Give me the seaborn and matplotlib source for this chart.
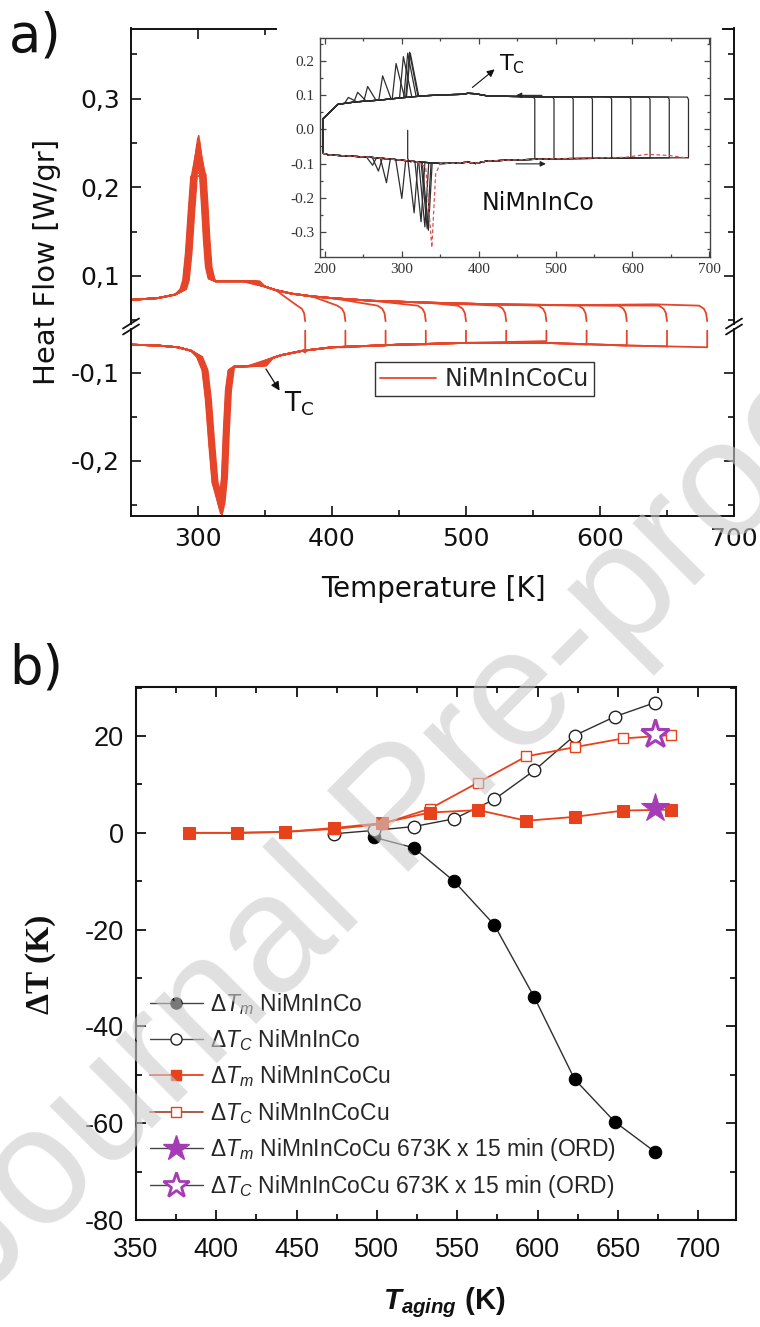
import numpy as np
import matplotlib
matplotlib.use("Agg")
import matplotlib.pyplot as plt
import seaborn as sns
from matplotlib.ticker import MultipleLocator, FuncFormatter
from matplotlib.lines import Line2D
from matplotlib.patches import Rectangle

sns.set_theme(style="ticks")
plt.rcParams["font.family"] = ["DejaVu Sans"]
plt.rcParams["mathtext.fontset"] = "custom"
plt.rcParams["mathtext.rm"] = "Liberation Sans"
plt.rcParams["mathtext.it"] = "Liberation Sans:italic"
plt.rcParams["mathtext.bf"] = "Liberation Sans:bold"
try:
    plt.rcParams["mathtext.bfit"] = "Liberation Sans:bold:italic"
except KeyError:
    pass

# ---------------- data: panel a, NiMnInCoCu DSC cycles ----------------
cu_tmax = [380, 410, 440, 470, 500, 530, 560, 590, 620, 650, 680]
cu_exo_peak = [0.258, 0.255, 0.252, 0.248, 0.244, 0.240, 0.236, 0.230, 0.224, 0.218, 0.214]
cu_exo_shift = [0.0, -0.6, 0.6, -1.2, 1.2, -1.8, 1.8, -0.9, 0.9, -2.2, 2.2]
cu_endo_peak = [-0.262, -0.260, -0.258, -0.256, -0.254, -0.252, -0.250, -0.248, -0.246, -0.245, -0.244]
cu_endo_shift = [0.4, -0.6, 1.0, -1.2, 1.6, -1.8, 2.2, -0.2, 0.7, -1.5, 1.3]
cu_tc_cool = [333, 334.5, 336, 337.5, 339, 340, 341, 342, 343, 344.5, 346]
cu_tc_heat = [338, 339.5, 341, 342.5, 344, 345, 346, 347, 348, 349.5, 351]
cu_heat_end = [-0.077, -0.071, -0.069, -0.068, -0.066, -0.066, -0.064, -0.068, -0.069, -0.070, -0.071]

# cooling (exothermic) branch template; None = per-cycle value
cool_T = [250, 270, 283, 289, 291, 293, 295, 297, 300.5, 303.5, 305, 306.5, 308, 310, 313, 322, None,
          350, 358, 370, 385, 400, 430, 470, 520, 580, 640, 690]
cool_HF = [0.073, 0.075, 0.079, 0.085, 0.095, 0.125, 0.170, 0.212, None, 0.215, 0.180, 0.140, 0.110,
           0.097, 0.094, 0.094, 0.094, 0.088, 0.084, 0.080, 0.077, 0.075, 0.072, 0.070, 0.068, 0.067,
           0.068, 0.068]
cool_peak_win = (288, 311)
# heating (endothermic) branch template
heat_T = [250, 270, 285, 295, 301, 305, 307.5, 310, 312.5, 317.5, 319.5, 321, 322.5, 324.5, 327, 331, None,
          356, 362, 378, 400, 450, 500, 560, 620, 690]
heat_HF = [-0.068, -0.069, -0.071, -0.075, -0.082, -0.097, -0.130, -0.180, -0.225, None, -0.220, -0.165,
           -0.120, -0.097, -0.093, -0.093, -0.092, -0.083, -0.080, -0.075, -0.071, -0.068, -0.066,
           -0.066, -0.069, -0.071]
heat_peak_win = (300, 326)
# rounded end of each cooling branch (offset from Tmax) and heat-flow values
hook_dT = [-6, -2.5, -0.8, 0]
hook_HF = [0.0665, 0.063, 0.058, 0.049]

# ---------------- data: inset, NiMnInCo ----------------
co_tmax = [473, 498, 523, 548, 573, 598, 623, 648, 673]
co_exo_T = [311, 310, 307.6, 302, 292.5, 275, 255.5, 242.5, 230.4]
co_exo_HF = [0.222, 0.225, 0.222, 0.212, 0.192, 0.156, 0.125, 0.108, 0.093]
co_endo_T = [334.5, 333, 330, 325, 316, 300, 280, 269.5, 262]
co_endo_HF = [-0.295, -0.290, -0.285, -0.270, -0.244, -0.202, -0.156, -0.122, -0.105]
in_cool_T = [197, 217, 240, 270, 300, 330, 360, 378, 386, 395, 410, 440, 480, 560, 680]
in_cool_HF = [0.030, 0.073, 0.080, 0.085, 0.092, 0.098, 0.101, 0.102, 0.105, 0.104, 0.098, 0.096,
              0.095, 0.095, 0.095]
in_heat_T = [197, 205, 230, 260, 290, 320, 350, 372, 386, 396, 410, 440, 500, 600, 680]
in_heat_HF = [-0.070, -0.075, -0.078, -0.082, -0.088, -0.095, -0.100, -0.099, -0.096, -0.100, -0.093,
              -0.090, -0.086, -0.084, -0.083]
exo_dT = [-5, 0, 11]
endo_dT = [-8, 0, 5]
red_T = [197, 205, 230, 260, 290, 320, 331, 339, 344, 350, 372, 386, 396, 410, 440, 500, 590, 620, 650, 673]
red_HF = [-0.070, -0.075, -0.078, -0.082, -0.088, -0.095, -0.110, -0.345, -0.130, -0.100, -0.099, -0.096,
          -0.100, -0.093, -0.090, -0.086, -0.082, -0.073, -0.077, -0.085]
spike_T = [307.6, 307.6, 309, 312]
spike_HF = [-0.003, -0.085, -0.092, -0.096]

# ---------------- data: panel b ----------------
co_tm_T = [498, 523, 548, 573, 598, 623, 648, 673]
co_dTm = [-0.9, -3.1, -10.0, -19.0, -34.0, -50.9, -59.7, -65.9]
co_tc_T = [473, 498, 523, 548, 573, 598, 623, 648, 673]
co_dTc = [-0.2, 0.5, 1.3, 2.9, 6.9, 12.9, 20.1, 24.0, 26.9]
cu_T = [383, 413, 443, 473, 503, 533, 563, 593, 623, 653, 683]
cu_dTm = [0.0, 0.0, 0.2, 1.0, 2.0, 4.2, 4.7, 2.5, 3.3, 4.6, 4.8]
cu_dTc = [0.0, 0.0, 0.2, 0.8, 1.8, 5.0, 10.4, 15.8, 17.7, 19.5, 20.2]
ord_T = [673]
ord_dTm = [5.1]
ord_dTc = [20.5]

RED = "#e6452a"
RED_B = "#e8421c"
PURP = "#a53cb6"
INK = "#2e2e2e"

W, H = 760, 1327
fig = plt.figure(figsize=(W / 100, H / 100), dpi=100)


def fbox(l, t, r, b):
    return [l / W, 1 - b / H, (r - l) / W, (b - t) / H]


def line(ax, xs, ys, **kw):
    sns.lineplot(x=list(xs), y=list(ys), ax=ax, sort=False, estimator=None, **kw)


comma = FuncFormatter(lambda v, p: f"{v:.1f}".replace(".", ",").replace("\u2212", "-"))

# ================= panel a =================
ax_up = fig.add_axes(fbox(131, 28.5, 734, 324))
ax_lo = fig.add_axes(fbox(131, 329, 734, 516), sharex=ax_up)

pk_c = cool_HF.index(None)
sh_c = cool_T.index(None)
pk_h = heat_HF.index(None)
sh_h = heat_T.index(None)

for i, tmax in enumerate(cu_tmax):
    cT = list(cool_T); cH = list(cool_HF)
    cH[pk_c] = cu_exo_peak[i]
    cT[sh_c] = cu_tc_cool[i]
    cT = [t + cu_exo_shift[i] if (t is not None and cool_peak_win[0] <= t <= cool_peak_win[1]) else t
          for t in cT]
    xs = [t for t in cT if t <= tmax - 12] + [tmax + d for d in hook_dT]
    ys = [h for t, h in zip(cT, cH) if t <= tmax - 12] + hook_HF
    line(ax_up, xs, ys, color=RED, lw=1.3)

    hT = list(heat_T); hH = list(heat_HF)
    hH[pk_h] = cu_endo_peak[i]
    hT[sh_h] = cu_tc_heat[i]
    hT = [t + cu_endo_shift[i] if heat_peak_win[0] <= t <= heat_peak_win[1] else t for t in hT]
    xs = [t for t in hT if t < tmax] + [tmax, tmax]
    ys = [h for t, h in zip(hT, hH) if t < tmax] + [cu_heat_end[i], -0.052]
    line(ax_lo, xs, ys, color=RED, lw=1.3)

ax_up.set_xlim(250, 700)
ax_up.set_ylim(0.0458, 0.379)
ax_lo.set_ylim(-0.263, -0.0502)

for ax in (ax_up, ax_lo):
    for s in ax.spines.values():
        s.set_linewidth(1.4)
        s.set_color("#111")
    ax.yaxis.set_major_locator(MultipleLocator(0.1))
    ax.yaxis.set_minor_locator(MultipleLocator(0.05))
    ax.yaxis.set_major_formatter(comma)
    ax.tick_params(axis="both", which="both", direction="in", left=True, right=True,
                   width=1.2, colors="#111", labelsize=18, labelcolor="#111", pad=8)
    ax.tick_params(which="major", length=7)
    ax.tick_params(which="minor", length=4)
    ax.set_xlabel("")
    ax.set_ylabel("")
ax_up.xaxis.set_major_locator(MultipleLocator(100))
ax_up.xaxis.set_minor_locator(MultipleLocator(50))
ax_up.spines["bottom"].set_visible(False)
ax_lo.spines["top"].set_visible(False)
ax_up.tick_params(axis="x", which="both", bottom=False, top=True, labelbottom=False)
ax_lo.tick_params(axis="x", which="both", bottom=True, top=False, labelbottom=True)

# break marks
yb = 1 - 326.5 / H
for xp in (131, 734):
    for off in (-3.0, 3.0):
        fig.add_artist(Line2D([(xp - 8) / W, (xp + 8) / W],
                              [yb - (5 - off) / H, yb + (5 + off) / H],
                              color="#111", lw=1.3, transform=fig.transFigure))

# legend
leg = ax_lo.legend([ax_lo.lines[0]], ["NiMnInCoCu"], loc="center", bbox_to_anchor=(0.586, 0.733),
                   frameon=True, fancybox=False, edgecolor="#333", framealpha=1, fontsize=17,
                   handlelength=2.4, handletextpad=0.35, borderpad=0.2, borderaxespad=0)
leg.get_frame().set_linewidth(1.0)

ax_lo.annotate("", xy=(362, -0.123), xytext=(349.6, -0.093),
               arrowprops=dict(arrowstyle="-|>", color="#111", lw=0.9, mutation_scale=13))
ax_lo.text(364.5, -0.135, r"T$_{\mathregular{C}}$", fontsize=19, ha="left", va="center",
           color="#111")

fig.text(47 / W, 1 - 262 / H, "Heat Flow [W/gr]", rotation=90, ha="center", va="center",
         fontsize=21, color="#111")
fig.text(433 / W, 1 - 589 / H, "Temperature [K]", ha="center", va="center", fontsize=20, color="#111")
fig.text(9 / W, 1 - 51 / H, "a)", fontsize=38, ha="left", va="baseline", color="#111")

# white background of the pasted inset
fig.add_artist(Rectangle((277 / W, 1 - 276 / H), (722 - 277) / W, (276 - 20) / H,
                         transform=fig.transFigure, facecolor="white", edgecolor="none", zorder=1))

# ================= inset =================
ax_in = fig.add_axes(fbox(320, 37.5, 710, 257))
ax_in.set_zorder(3)


def merge(tT, tH, pT, pH, dT):
    lo_e, hi_e = pT + dT[0], pT + dT[2]
    pts = [(t, h) for t, h in zip(tT, tH) if t < lo_e or t > hi_e]
    pts += [(lo_e, float(np.interp(lo_e, tT, tH))), (pT, pH), (hi_e, float(np.interp(hi_e, tT, tH)))]
    return sorted(pts)


for i, tmax in enumerate(co_tmax):
    heat = [p for p in merge(in_heat_T, in_heat_HF, co_endo_T[i], co_endo_HF[i], endo_dT) if p[0] < tmax]
    cool = [p for p in merge(in_cool_T, in_cool_HF, co_exo_T[i], co_exo_HF[i], exo_dT) if p[0] < tmax - 3]
    hb = float(np.interp(tmax, in_heat_T, in_heat_HF))
    cb = float(np.interp(tmax, in_cool_T, in_cool_HF))
    path = heat + [(tmax, hb), (tmax, cb - 0.008), (tmax - 1.5, cb - 0.001)] + cool[::-1] + [(197, -0.070)]
    line(ax_in, [p[0] for p in path], [p[1] for p in path], color=INK, lw=0.9)

line(ax_in, red_T, red_HF, color="#d9534f", lw=0.9, linestyle=(0, (3, 2)))
line(ax_in, spike_T, spike_HF, color=INK, lw=0.9)

ax_in.set_xlim(193.5, 701)
ax_in.set_ylim(-0.373, 0.268)
ax_in.xaxis.set_major_locator(MultipleLocator(100))
ax_in.xaxis.set_minor_locator(MultipleLocator(50))
ax_in.yaxis.set_major_locator(MultipleLocator(0.1))
ax_in.yaxis.set_minor_locator(MultipleLocator(0.05))
ax_in.yaxis.set_major_formatter(FuncFormatter(lambda v, p: f"{v:.1f}".replace("\u2212", "-").replace("-0.0", "0.0")))
ax_in.tick_params(axis="both", which="both", direction="in", top=True, right=True, colors="#444",
                  labelsize=11, labelcolor="#333", labelfontfamily="Liberation Serif", width=0.9, pad=4)
ax_in.tick_params(which="major", length=4.5)
ax_in.tick_params(which="minor", length=2.5)
for s in ax_in.spines.values():
    s.set_linewidth(1.0)
    s.set_color("#444")
ax_in.set_xlabel("")
ax_in.set_ylabel("")

ax_in.annotate("", xy=(423.5, 0.18), xytext=(389, 0.117),
               arrowprops=dict(arrowstyle="-|>", color="#111", lw=0.8, mutation_scale=11))
ax_in.text(427, 0.19, r"T$_{\mathregular{C}}$", fontsize=16, ha="left", va="center", color="#111")
ax_in.annotate("", xy=(445, 0.099), xytext=(486, 0.099),
               arrowprops=dict(arrowstyle="-|>", color="#222", lw=0.8, mutation_scale=8))
ax_in.annotate("", xy=(491, -0.101), xytext=(445, -0.101),
               arrowprops=dict(arrowstyle="-|>", color="#222", lw=0.8, mutation_scale=8))
ax_in.text(404, -0.215, "NiMnInCo", fontsize=17, ha="left", va="center", color="#111")

# ================= panel b =================
ax_b = fig.add_axes(fbox(136, 686.7, 736, 1220))
line(ax_b, co_tm_T, co_dTm, color=INK, lw=1.0, marker="o", markersize=9,
     markerfacecolor="black", markeredgecolor="black")
line(ax_b, co_tc_T, co_dTc, color=INK, lw=1.0, marker="o", markersize=9,
     markerfacecolor="white", markeredgecolor="#222", markeredgewidth=1.0)
line(ax_b, cu_T, cu_dTc, color=RED_B, lw=1.3, marker="s", markersize=7.5,
     markerfacecolor="white", markeredgecolor=RED_B, markeredgewidth=1.0)
line(ax_b, cu_T, cu_dTm, color=RED_B, lw=1.3, marker="s", markersize=8,
     markerfacecolor=RED_B, markeredgecolor=RED_B)
line(ax_b, ord_T, ord_dTm, linestyle="none", marker="*", markersize=21,
     markerfacecolor=PURP, markeredgecolor=PURP)
line(ax_b, ord_T, ord_dTc, linestyle="none", marker="*", markersize=21,
     markerfacecolor="white", markeredgecolor=PURP, markeredgewidth=2.2)

ax_b.set_xlim(350, 723.5)
ax_b.set_ylim(-80, 30.2)
ax_b.xaxis.set_major_locator(MultipleLocator(50))
ax_b.xaxis.set_minor_locator(MultipleLocator(25))
ax_b.yaxis.set_major_locator(MultipleLocator(20))
ax_b.yaxis.set_minor_locator(MultipleLocator(10))
ax_b.yaxis.set_major_formatter(FuncFormatter(lambda v, p: f"{v:.0f}".replace("\u2212", "-")))
ax_b.tick_params(axis="both", which="both", direction="in", top=True, right=True, width=1.3,
                 colors="#111", labelcolor="#111", labelsize=19.5, labelfontfamily="Liberation Sans")
ax_b.tick_params(axis="x", pad=12)
ax_b.tick_params(axis="y", pad=9)
ax_b.tick_params(which="major", length=7)
ax_b.tick_params(which="minor", length=4)
for s in ax_b.spines.values():
    s.set_linewidth(1.5)
    s.set_color("#111")
ax_b.set_xlabel("")
ax_b.set_ylabel("")

handles = [
    Line2D([], [], color="#444", lw=1.0, marker="o", markersize=8, markerfacecolor="black", markeredgecolor="black"),
    Line2D([], [], color="#444", lw=1.0, marker="o", markersize=8, markerfacecolor="white", markeredgecolor="#222"),
    Line2D([], [], color=RED_B, lw=1.3, marker="s", markersize=7.5, markerfacecolor=RED_B, markeredgecolor=RED_B),
    Line2D([], [], color="#a0503a", lw=1.3, marker="s", markersize=7, markerfacecolor="white", markeredgecolor=RED_B),
    Line2D([], [], color="#444", lw=1.0, marker="*", markersize=19, markerfacecolor=PURP, markeredgecolor=PURP),
    Line2D([], [], color="#444", lw=1.0, marker="*", markersize=19, markerfacecolor="white", markeredgecolor=PURP,
           markeredgewidth=2.0),
]
labels = [
    "$\\mathit{\u0394T}_{\\mathit{m}}$ NiMnInCo",
    "$\\mathit{\u0394T}_{\\mathit{C}}$ NiMnInCo",
    "$\\mathit{\u0394T}_{\\mathit{m}}$ NiMnInCoCu",
    "$\\mathit{\u0394T}_{\\mathit{C}}$ NiMnInCoCu",
    "$\\mathit{\u0394T}_{\\mathit{m}}$ NiMnInCoCu 673K x 15 min (ORD)",
    "$\\mathit{\u0394T}_{\\mathit{C}}$ NiMnInCoCu 673K x 15 min (ORD)",
]
ax_b.legend(handles, labels, loc="upper left", bbox_to_anchor=(0.0233, 0.4294), frameon=False,
            prop={"family": "Liberation Sans", "size": 16.5}, handlelength=2.3, handletextpad=0.3,
            labelspacing=0.45, borderpad=0, borderaxespad=0)

fig.text(40 / W, 1 - 964 / H, "\u0394T (K)", rotation=90, ha="center", va="center", fontsize=24,
         fontweight="bold", family="Liberation Serif", color="#111")
fig.text(444 / W, 1 - 1303 / H, r"$\mathbfit{T}_{\mathbfit{aging}}$ (K)", ha="center", va="center",
         fontsize=21, fontweight="bold", family="Liberation Sans", color="#111")
fig.text(9 / W, 1 - 684 / H, "b)", fontsize=38, ha="left", va="baseline", color="#111")

# watermark
fig.text(-20 / W, 1 - 1300 / H, "Journal Pre-proof", rotation=45, rotation_mode="anchor",
         ha="left", va="baseline", fontsize=120, family="Liberation Sans", color="#cccccc",
         alpha=0.6, zorder=10)

fig.savefig("out.png", dpi=100)
